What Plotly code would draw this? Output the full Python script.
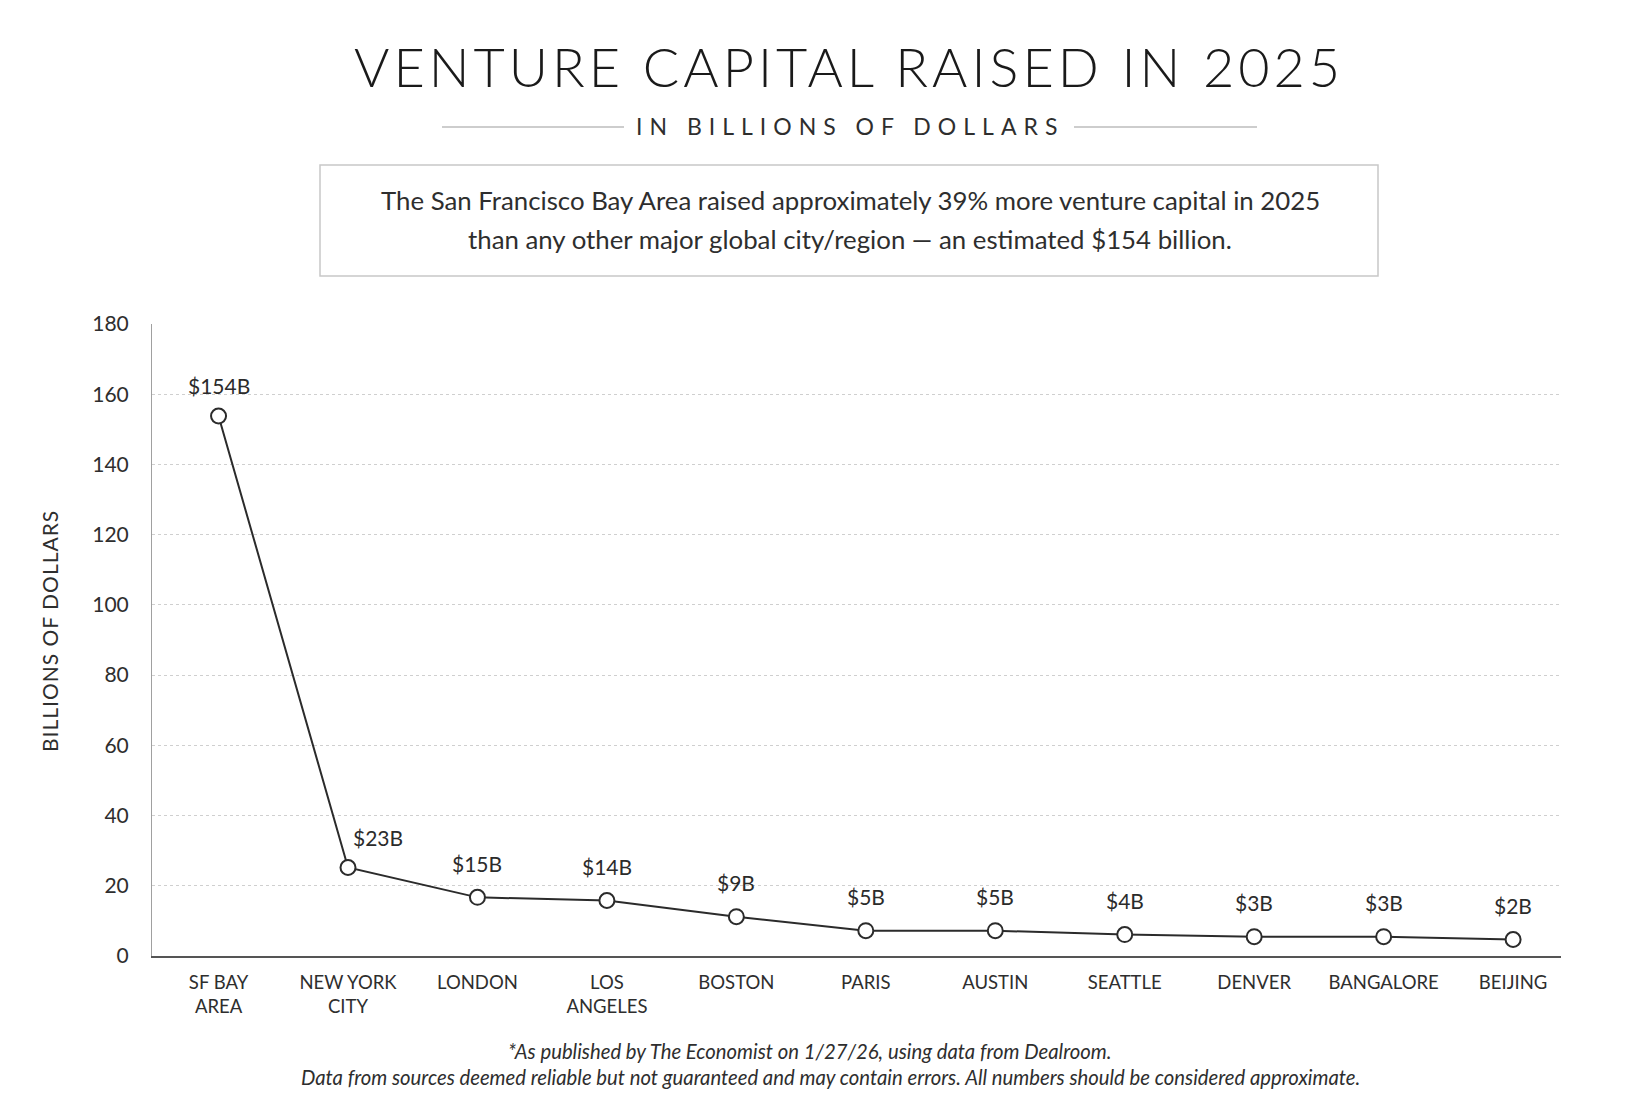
import plotly.graph_objects as go

# values
cities = ["SF BAY<br>AREA", "NEW YORK<br>CITY", "LONDON", "LOS<br>ANGELES", "BOSTON",
          "PARIS", "AUSTIN", "SEATTLE", "DENVER", "BANGALORE", "BEIJING"]
plotted = [153.8, 25.2, 16.7, 15.8, 11.2, 7.2, 7.2, 6.1, 5.5, 5.5, 4.7]
labels = ["$154B", "$23B", "$15B", "$14B", "$9B", "$5B", "$5B", "$4B", "$3B", "$3B", "$2B"]
y_ticks = [0, 20, 40, 60, 80, 100, 120, 140, 160, 180]

W, H = 1650, 1098
L, R, T, B = 144, 97, 316, 150
FONT = "Lato"
INK = "#2b2b2b"
TXT = "#2e2e2e"


def px(x):
    return (x - L) / (W - L - R)


def py(y):
    return (H - B - y) / (H - T - B)


fig = go.Figure()

fig.add_trace(go.Scatter(
    x=cities,
    y=plotted,
    mode="lines+markers",
    line=dict(color=INK, width=2),
    marker=dict(size=15, color="white", line=dict(color=INK, width=2)),
    showlegend=False,
    hoverinfo="skip",
))

# value labels above points (NY sits to the upper right)
shift = {"NEW YORK<br>CITY": (30, 30), "SF BAY<br>AREA": (0, 30)}
for c, v, t in zip(cities, plotted, labels):
    dx, dy = shift.get(c, (0, 34))
    fig.add_annotation(x=c, y=v, text=t, showarrow=False, xshift=dx, yshift=dy,
                       font=dict(family=FONT, size=21, color=INK))

annots = [
    dict(x=px(841), y=py(58),
         text='<span style="letter-spacing:4px">VENTURE CAPITAL RAISED IN 2025</span>',
         font=dict(family=FONT, size=54, color="#1a1a1a", weight=300)),
    dict(x=px(842), y=py(118),
         text='<span style="letter-spacing:7px">IN BILLIONS OF DOLLARS</span>',
         font=dict(family=FONT, size=23, color=TXT)),
    dict(x=px(842), y=py(192),
         text="The San Francisco Bay Area raised approximately 39% more venture capital in 2025",
         font=dict(family=FONT, size=25.8, color=TXT)),
    dict(x=px(842), y=py(231),
         text="than any other major global city/region \u2014 an estimated $154 billion.",
         font=dict(family=FONT, size=25.8, color=TXT)),
    dict(x=px(41), y=py(623),
         text='<span style="letter-spacing:1px">BILLIONS OF DOLLARS</span>', textangle=-90,
         font=dict(family=FONT, size=21, color=TXT)),
    dict(x=px(801), y=py(1043),
         text="<i>*As published by The Economist on 1/27/26, using data from Dealroom.</i>",
         font=dict(family=FONT, size=20.3, color=TXT)),
    dict(x=px(822), y=py(1069),
         text="<i>Data from sources deemed reliable but not guaranteed and may contain errors. "
              "All numbers should be considered approximate.</i>",
         font=dict(family=FONT, size=20.3, color=TXT)),
]
for a in annots:
    fig.add_annotation(xref="paper", yref="paper", showarrow=False,
                       xanchor="center", yanchor="middle", **a)

shapes = [
    dict(type="rect", x0=px(312), x1=px(1370), y0=py(157), y1=py(268),
         line=dict(color="#c8c8c8", width=1.5)),
    dict(type="line", x0=px(434), x1=px(616), y0=py(119), y1=py(119),
         line=dict(color="#bdbdbd", width=1.5)),
    dict(type="line", x0=px(1066), x1=px(1249), y0=py(119), y1=py(119),
         line=dict(color="#bdbdbd", width=1.5)),
    dict(type="line", x0=px(0), x1=px(W), y0=py(1096), y1=py(1096),
         line=dict(color="#e6c6dc", width=2)),
]
for s in shapes:
    fig.add_shape(xref="paper", yref="paper", **s)

fig.update_layout(
    width=W, height=H,
    margin=dict(l=L, r=R, t=T, b=B),
    paper_bgcolor="white",
    plot_bgcolor="white",
    font=dict(family=FONT, color=TXT),
)

fig.update_xaxes(
    type="category",
    range=[-0.514, 10.37],
    showgrid=False,
    showline=True, linecolor="#555555", linewidth=2,
    ticks="", tickfont=dict(family=FONT, size=18.5, color=TXT),
    ticklabelstandoff=9,
)

fig.update_yaxes(
    range=[0, 180],
    tickvals=y_ticks,
    showgrid=True, gridcolor="#cfcfcf", gridwidth=1, griddash="dot",
    showline=True, linecolor="#a0a0a0", linewidth=1,
    zeroline=False,
    ticks="", tickfont=dict(family=FONT, size=21, color=TXT),
    ticklabelstandoff=18,
)

fig.write_html("out.html")
